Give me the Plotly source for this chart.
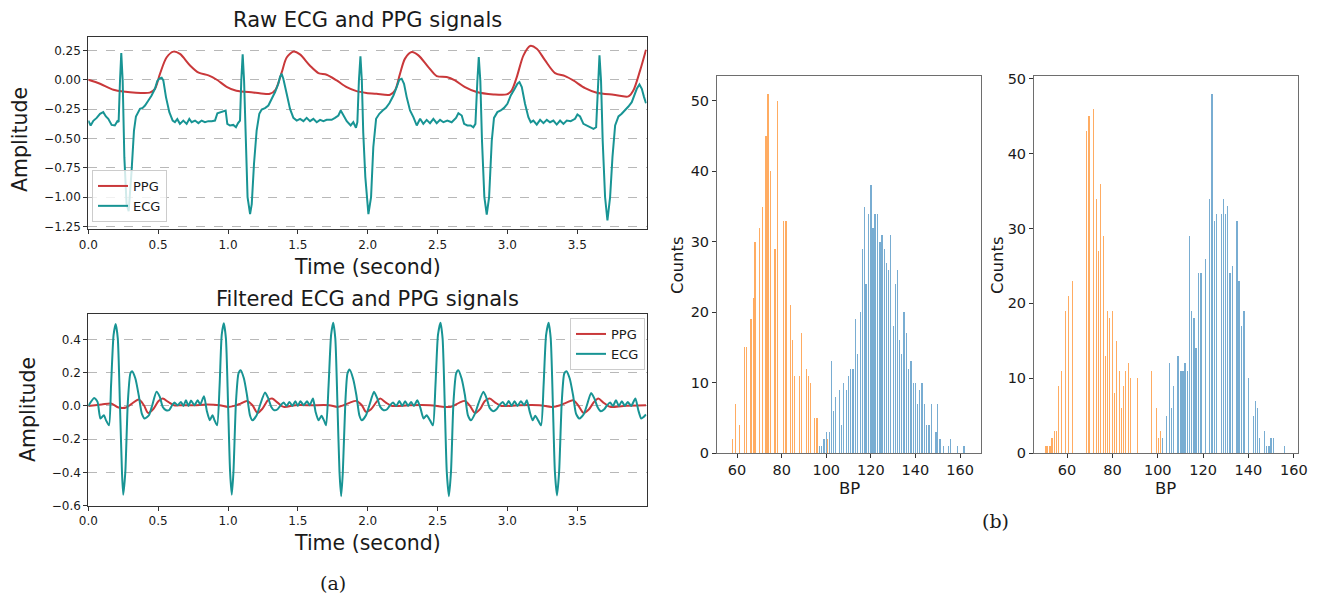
import plotly.graph_objects as go

# ---------------- data: raw signals (panel a, top) ----------------
raw_ppg_t = [0.0, 0.084, 0.18, 0.25, 0.44, 0.477, 0.513, 0.56, 0.61, 0.656, 0.73, 0.79, 0.86, 0.92, 0.99,
             1.06, 1.18, 1.30, 1.34, 1.385, 1.42, 1.47, 1.515, 1.587, 1.647, 1.706, 1.778, 1.85, 1.92, 1.99,
             2.064, 2.16, 2.196, 2.231, 2.267, 2.315, 2.363, 2.434, 2.494, 2.565, 2.625, 2.697, 2.78, 2.90,
             2.995, 3.031, 3.067, 3.115, 3.162, 3.21, 3.27, 3.341, 3.413, 3.472, 3.556, 3.64, 3.76, 3.866,
             3.902, 3.95, 3.992]
raw_ppg_v = [0.0, -0.034, -0.085, -0.10, -0.11, -0.077, 0.05, 0.19, 0.24, 0.22, 0.12, 0.06, 0.037, 0.0, -0.06,
             -0.094, -0.108, -0.12, -0.085, 0.065, 0.19, 0.24, 0.216, 0.12, 0.057, 0.043, -0.006, -0.063, -0.097, -0.112,
             -0.12, -0.128, -0.09, 0.05, 0.18, 0.236, 0.208, 0.108, 0.031, 0.023, -0.006, -0.063, -0.105, -0.125,
             -0.125, -0.09, 0.023, 0.208, 0.288, 0.265, 0.165, 0.057, 0.031, -0.006, -0.071, -0.11, -0.128, -0.142,
             -0.09, 0.08, 0.256]

raw_ecg_t = [0.0, 0.017, 0.036, 0.06, 0.084, 0.107, 0.126, 0.143, 0.167, 0.19, 0.208, 0.217, 0.227, 0.236, 0.246,
             0.258, 0.274, 0.289, 0.31, 0.327, 0.341, 0.358, 0.37, 0.389, 0.406, 0.43, 0.453, 0.477, 0.494, 0.508,
             0.525, 0.537, 0.556, 0.58, 0.604, 0.62, 0.637, 0.656, 0.68, 0.704, 0.723, 0.74, 0.764, 0.788, 0.811,
             0.835, 0.859, 0.883, 0.907, 0.924, 0.943, 0.967, 0.983, 0.995, 1.014, 1.038, 1.057, 1.072, 1.086,
             1.095, 1.105, 1.115, 1.126, 1.14, 1.158, 1.17, 1.186, 1.205, 1.224, 1.241, 1.265, 1.289, 1.313, 1.337,
             1.36, 1.372, 1.384, 1.396, 1.42, 1.444, 1.468, 1.492, 1.516, 1.54, 1.563, 1.587, 1.611, 1.635, 1.659,
             1.683, 1.706, 1.742, 1.766, 1.79, 1.807, 1.826, 1.85, 1.878, 1.897, 1.916, 1.926, 1.937, 1.948, 1.958,
             1.968, 1.983, 2.005, 2.024, 2.04, 2.06, 2.083, 2.107, 2.131, 2.155, 2.184, 2.207, 2.226, 2.243, 2.26,
             2.279, 2.303, 2.327, 2.351, 2.375, 2.398, 2.422, 2.446, 2.47, 2.494, 2.518, 2.542, 2.57, 2.601, 2.632,
             2.649, 2.673, 2.69, 2.713, 2.737, 2.756, 2.771, 2.785, 2.795, 2.806, 2.818, 2.835, 2.852, 2.869, 2.888,
             2.904, 2.928, 2.952, 2.976, 3.0, 3.024, 3.048, 3.072, 3.086, 3.103, 3.126, 3.15, 3.167, 3.186, 3.21,
             3.234, 3.258, 3.282, 3.305, 3.329, 3.353, 3.377, 3.401, 3.425, 3.453, 3.484, 3.501, 3.52, 3.544, 3.568,
             3.592, 3.616, 3.635, 3.649, 3.659, 3.67, 3.682, 3.699, 3.716, 3.735, 3.752, 3.771, 3.795, 3.818, 3.842,
             3.866, 3.89, 3.907, 3.926, 3.945, 3.962, 3.978, 3.992]
raw_ecg_v = [-0.348, -0.39, -0.35, -0.325, -0.29, -0.276, -0.313, -0.333, -0.385, -0.39, -0.353, -0.36, -0.006, 0.228, -0.006,
             -0.66, -1.06, -1.12, -0.775, -0.433, -0.313, -0.276, -0.248, -0.24, -0.22, -0.177, -0.134, -0.077, -0.011, 0.009,
             0.017, -0.006, -0.148, -0.276, -0.348, -0.362, -0.336, -0.376, -0.348, -0.376, -0.333, -0.362, -0.348, -0.37, -0.348,
             -0.362, -0.353, -0.353, -0.348, -0.285, -0.276, -0.268, -0.262, -0.376, -0.39, -0.385, -0.405, -0.37, -0.348,
             -0.006, 0.217, -0.006, -0.52, -1.0, -1.145, -1.06, -0.718, -0.433, -0.29, -0.254, -0.242, -0.22, -0.162, -0.105,
             -0.034, 0.023, 0.051, 0.009, -0.12, -0.248, -0.325, -0.348, -0.333, -0.353, -0.325, -0.353, -0.333, -0.362, -0.342,
             -0.353, -0.342, -0.342, -0.325, -0.305, -0.262, -0.305, -0.353, -0.39, -0.362, -0.41, -0.362, -0.006, 0.2, -0.006,
             -0.45, -0.83, -1.145, -1.0, -0.575, -0.333, -0.29, -0.262, -0.24, -0.2, -0.134, -0.063, 0.0, 0.009, -0.034,
             -0.148, -0.262, -0.319, -0.39, -0.333, -0.376, -0.342, -0.37, -0.333, -0.37, -0.342, -0.362, -0.348, -0.362, -0.325,
             -0.285, -0.305, -0.376, -0.39, -0.39, -0.405, -0.376, -0.006, 0.194, -0.006, -0.52, -1.0, -1.15, -1.0, -0.52,
             -0.325, -0.276, -0.262, -0.24, -0.205, -0.134, -0.085, -0.034, -0.02, -0.063, -0.205, -0.319, -0.362, -0.348, -0.382,
             -0.342, -0.37, -0.342, -0.362, -0.348, -0.382, -0.348, -0.376, -0.348, -0.353, -0.333, -0.296, -0.313, -0.376, -0.39,
             -0.405, -0.419, -0.405, -0.006, 0.208, -0.006, -0.52, -1.0, -1.2, -1.0, -0.66, -0.39, -0.313, -0.29, -0.262,
             -0.228, -0.191, -0.134, -0.077, -0.04, -0.077, -0.148, -0.2]

# ---------------- data: filtered signals (panel a, bottom) ----------------
flt_ecg_t = [0.0, 0.042, 0.066, 0.087, 0.111, 0.127, 0.148, 0.163, 0.181, 0.196, 0.211, 0.226, 0.241, 0.25, 0.265,
             0.283, 0.301, 0.313, 0.337, 0.361, 0.383, 0.404, 0.434, 0.458, 0.488, 0.512, 0.533, 0.557, 0.578, 0.6,
             0.617, 0.639, 0.663, 0.681, 0.699, 0.717, 0.735, 0.759, 0.783, 0.801, 0.828, 0.849, 0.87, 0.889, 0.904,
             0.922, 0.94, 0.955, 0.97, 0.985, 1.0, 1.015, 1.027, 1.039, 1.057, 1.075, 1.09, 1.114, 1.136, 1.157,
             1.175, 1.205, 1.229, 1.265, 1.289, 1.31, 1.331, 1.355, 1.377, 1.398, 1.419, 1.44, 1.461, 1.482, 1.5,
             1.518, 1.542, 1.566, 1.584, 1.608, 1.627, 1.648, 1.669, 1.687, 1.702, 1.72, 1.738, 1.753, 1.768, 1.783,
             1.798, 1.81, 1.822, 1.84, 1.855, 1.87, 1.895, 1.919, 1.94, 1.958, 1.988, 2.012, 2.045, 2.069, 2.09,
             2.114, 2.139, 2.16, 2.181, 2.205, 2.226, 2.247, 2.268, 2.289, 2.31, 2.331, 2.355, 2.377, 2.4, 2.422,
             2.446, 2.467, 2.485, 2.503, 2.521, 2.536, 2.551, 2.566, 2.581, 2.596, 2.614, 2.633, 2.648, 2.672, 2.696,
             2.717, 2.738, 2.768, 2.792, 2.828, 2.852, 2.873, 2.898, 2.922, 2.946, 2.967, 2.988, 3.009, 3.03, 3.051,
             3.072, 3.096, 3.12, 3.139, 3.16, 3.181, 3.199, 3.22, 3.241, 3.259, 3.277, 3.295, 3.31, 3.325, 3.34,
             3.355, 3.37, 3.389, 3.407, 3.422, 3.446, 3.47, 3.491, 3.515, 3.545, 3.569, 3.599, 3.623, 3.645, 3.669,
             3.693, 3.714, 3.735, 3.756, 3.777, 3.798, 3.819, 3.84, 3.861, 3.886, 3.916, 3.937, 3.958, 3.976, 3.992]
flt_ecg_v = [0.0, 0.048, 0.024, -0.076, -0.056, -0.087, -0.117, 0.125, 0.427, 0.493, 0.406, 0.024, -0.398, -0.535, -0.398,
             0.024, 0.195, 0.209, 0.165, 0.064, -0.046, -0.076, -0.056, 0.004, 0.085, 0.054, -0.006, -0.026, -0.026, 0.004,
             0.02, 0.004, 0.024, 0.0, 0.034, 0.0, 0.032, 0.004, 0.034, 0.008, 0.058, -0.032, -0.087, -0.056, -0.087,
             -0.117, 0.125, 0.427, 0.497, 0.406, 0.024, -0.398, -0.535, -0.398, 0.024, 0.195, 0.215, 0.165, 0.064, -0.056,
             -0.087, -0.056, 0.004, 0.08, 0.044, -0.006, -0.026, -0.02, 0.004, 0.02, 0.0, 0.024, 0.0, 0.028, 0.0,
             0.028, 0.004, 0.028, 0.004, 0.044, -0.036, -0.087, -0.06, -0.087, -0.117, 0.125, 0.427, 0.501, 0.406, 0.024,
             -0.398, -0.543, -0.398, 0.024, 0.195, 0.219, 0.165, 0.064, -0.056, -0.087, -0.056, 0.004, 0.085, 0.044, -0.006,
             -0.026, -0.02, 0.004, 0.02, 0.0, 0.03, 0.0, 0.028, 0.0, 0.024, 0.0, 0.034, -0.012, -0.076, -0.056,
             -0.087, -0.117, 0.125, 0.427, 0.501, 0.406, 0.024, -0.398, -0.543, -0.398, 0.024, 0.195, 0.215, 0.165, 0.064,
             -0.056, -0.087, -0.046, 0.014, 0.085, 0.044, -0.012, -0.032, -0.02, 0.008, 0.024, 0.0, 0.03, 0.0, 0.028,
             0.0, 0.028, 0.004, 0.034, -0.036, -0.087, -0.06, -0.087, -0.117, 0.125, 0.427, 0.501, 0.406, 0.024, -0.398,
             -0.539, -0.398, 0.024, 0.195, 0.209, 0.165, 0.064, -0.046, -0.076, -0.052, 0.004, 0.078, 0.044, -0.006, -0.032,
             -0.02, 0.004, 0.02, 0.0, 0.034, 0.0, 0.028, 0.0, 0.024, 0.0, 0.044, -0.026, -0.076, -0.066, -0.052]

flt_ppg_t = [0.0, 0.096, 0.163, 0.217, 0.271, 0.313, 0.361, 0.398, 0.428, 0.464, 0.503, 0.533, 0.572, 0.614, 0.669,
             0.759, 0.849, 0.94, 1.0, 1.045, 1.09, 1.136, 1.175, 1.211, 1.247, 1.286, 1.316, 1.355, 1.398, 1.482,
             1.602, 1.723, 1.783, 1.828, 1.873, 1.919, 1.958, 1.988, 2.024, 2.063, 2.09, 2.13, 2.175, 2.295, 2.446,
             2.551, 2.596, 2.657, 2.696, 2.732, 2.768, 2.807, 2.837, 2.873, 2.913, 2.958, 3.078, 3.229, 3.319, 3.378,
             3.422, 3.47, 3.506, 3.545, 3.584, 3.62, 3.651, 3.687, 3.735, 3.831, 3.992]
flt_ppg_v = [0.0, 0.008, 0.014, -0.01, -0.01, 0.014, 0.038, 0.004, -0.042, -0.02, 0.03, 0.044, 0.024, 0.004, 0.004,
             0.004, 0.008, 0.004, -0.006, 0.0, 0.014, 0.03, 0.004, -0.042, -0.016, 0.034, 0.044, 0.02, -0.006, 0.004,
             0.004, 0.004, -0.006, 0.004, 0.02, 0.03, 0.004, -0.036, -0.02, 0.024, 0.044, 0.02, 0.0, 0.004, 0.004,
             -0.006, -0.006, 0.02, 0.03, 0.0, -0.042, -0.016, 0.028, 0.044, 0.02, 0.0, 0.004, 0.004, -0.006, 0.004,
             0.02, 0.034, 0.004, -0.042, -0.02, 0.024, 0.044, 0.02, -0.006, 0.0, 0.004]

# ---------------- data: BP histograms (panel b) ----------------
h1_sbp_bp = [97, 98, 99, 100, 101.3, 102.2, 103.2, 104.1, 105.9, 106.9, 107.8, 109, 110.1, 111, 112, 113.2, 114.1,
             115.2, 116.1, 117, 117.8, 118.9, 120, 121, 121.9, 122.9, 124.1, 125, 126.1, 127, 128, 128.9, 130.1,
             131, 132.1, 132.8, 133.9, 134.9, 135.9, 136.8, 138, 139.1, 140, 141, 141.8, 143, 144, 145.1, 146.1,
             147.1, 149.2, 150, 151, 152.7, 154.9, 155.6, 158.8, 161.8]
h1_sbp_cnt = [1, 1, 2, 3, 3, 13, 6, 8, 9, 4, 10, 9, 11, 12, 12, 19, 14,
              20, 29, 35, 24, 34, 38, 32, 34, 34, 30, 31, 29, 27, 26, 31, 18,
              24, 26, 16, 14, 20, 17, 12, 13, 10, 10, 7, 9, 10, 7, 4, 4,
              7, 3, 7, 2, 1, 1, 2, 1, 1]
h1_dbp_bp = [58.1, 59.3, 61.2, 63.3, 64.3, 66.2, 67.3, 68.1, 70.1, 71.3, 73.0, 73.9, 75.1, 77.0, 78.1, 80.9, 81.9,
             83.9, 84.9, 85.9, 87.9, 88.9, 91.0, 91.9, 92.9, 94.8, 95.9, 100.6]
h1_dbp_cnt = [2, 7, 4, 15, 15, 19, 22, 30, 32, 35, 45, 51, 40, 29, 50, 33, 33,
              21, 16, 11, 11, 17, 12, 11, 10, 5, 5, 2]

h2_sbp_bp = [102, 103.9, 105.1, 106.1, 107, 108.9, 110.2, 111.1, 112, 113, 114.1, 115, 116, 116.9, 118.1, 119.1,
             121, 122.9, 123.9, 125.1, 125.9, 128.1, 128.9, 130, 130.9, 131.9, 133.1, 134.9, 135.8, 136.9, 138,
             139.9, 142.2, 143, 144, 144.9, 147.2, 148.1, 149.1, 150, 151, 155.8]
h2_sbp_cnt = [2, 5, 12, 6, 9, 13, 11, 11, 12, 11, 29, 19, 18, 14, 24, 24,
              26, 34, 48, 31, 32, 32, 34, 32, 33, 24, 25, 31, 23, 17, 19,
              10, 5, 7, 6, 2, 3, 1, 1, 2, 2, 1]
h2_dbp_bp = [50.5, 51.2, 52.4, 53.3, 54.4, 55.4, 56.3, 57.5, 59.4, 60.6, 62.5, 68.6, 69.6, 71.7, 72.9, 73.8, 74.8,
             76.0, 76.8, 77.9, 78.7, 79.9, 80.9, 81.8, 83.0, 83.9, 84.9, 85.9, 87.0, 88.0, 91.1, 97.3, 99.3, 100.3, 101.3]
h2_dbp_cnt = [1, 1, 1, 2, 3, 3, 9, 11, 19, 21, 23, 43, 45, 46, 34, 27, 36,
              29, 13, 19, 18, 19, 8, 15, 11, 6, 9, 11, 12, 10, 10, 11, 6, 2, 3]

sig_x_ticks = [0, 0.5, 1.0, 1.5, 2.0, 2.5, 3.0, 3.5]
raw_y_ticks = [-1.25, -1.0, -0.75, -0.5, -0.25, 0.0, 0.25]
flt_y_ticks = [-0.6, -0.4, -0.2, 0.0, 0.2, 0.4]
hist_x_ticks = [60, 80, 100, 120, 140, 160]
hist_y_ticks = [0, 10, 20, 30, 40, 50]

# ---------------- styling ----------------
W, H = 1320, 599
PPG_C = "#c9383a"
ECG_C = "#189494"
BLUE = "rgba(31,119,180,0.6)"
ORANGE = "rgba(255,127,14,0.65)"
FONT = "DejaVu Sans"
TXT = "#1a1a1a"

def px_x(p):
    return p / W

def px_y(p):
    return 1 - p / H

fig = go.Figure()

# top: raw
fig.add_trace(go.Scatter(x=raw_ppg_t, y=raw_ppg_v, mode="lines", name="PPG", line=dict(color=PPG_C, width=2, shape="spline", smoothing=0.8),
                         xaxis="x", yaxis="y", legend="legend"))
fig.add_trace(go.Scatter(x=raw_ecg_t, y=raw_ecg_v, mode="lines", name="ECG", line=dict(color=ECG_C, width=2),
                         xaxis="x", yaxis="y", legend="legend"))
# bottom: filtered
fig.add_trace(go.Scatter(x=flt_ppg_t, y=flt_ppg_v, mode="lines", name="PPG", line=dict(color=PPG_C, width=2, shape="spline", smoothing=0.8),
                         xaxis="x2", yaxis="y2", legend="legend2"))
fig.add_trace(go.Scatter(x=flt_ecg_t, y=flt_ecg_v, mode="lines", name="ECG", line=dict(color=ECG_C, width=2, shape="spline", smoothing=0.6),
                         xaxis="x2", yaxis="y2", legend="legend2"))

# histograms
for bp, cnt, col, wdt, xa, ya in [
    (h1_sbp_bp, h1_sbp_cnt, BLUE, 0.58, "x3", "y3"),
    (h1_dbp_bp, h1_dbp_cnt, ORANGE, 0.58, "x3", "y3"),
    (h2_sbp_bp, h2_sbp_cnt, BLUE, 0.58, "x4", "y4"),
    (h2_dbp_bp, h2_dbp_cnt, ORANGE, 0.58, "x4", "y4"),
]:
    fig.add_trace(go.Bar(x=bp, y=cnt, width=wdt, marker=dict(color=col, line=dict(width=0)),
                         showlegend=False, xaxis=xa, yaxis=ya))

sig_x_dom = [px_x(88.3), px_x(646.7)]

def sig_xaxis(domain_anchor):
    return dict(domain=sig_x_dom, anchor=domain_anchor, range=[0, 3.997], tickmode="array", tickvals=sig_x_ticks,
                ticktext=[f"{v:.1f}" for v in sig_x_ticks], showgrid=False, zeroline=False, automargin=False,
                showline=True, mirror=True, linecolor="#333333", linewidth=1,
                ticks="outside", ticklen=4, tickcolor="#333333",
                tickfont=dict(family=FONT, size=12, color=TXT))

def sig_yaxis(dom, rng, tv, fmt, anchor):
    return dict(domain=dom, anchor=anchor, range=rng, tickmode="array", tickvals=tv,
                ticktext=[(f"{v:{fmt}}").replace("-", "\u2212") for v in tv], automargin=False,
                showgrid=True, gridcolor="#b8b8b8", griddash="dash", gridwidth=1, zeroline=False,
                showline=True, mirror=True, linecolor="#333333", linewidth=1,
                ticks="outside", ticklen=4, tickcolor="#333333",
                tickfont=dict(family=FONT, size=12, color=TXT))

def hist_xaxis(dom, rng, anchor):
    return dict(domain=dom, anchor=anchor, range=rng, tickmode="array", tickvals=hist_x_ticks, automargin=False,
                showgrid=False, zeroline=False, showline=True, mirror=True, linecolor="#6e6e6e", linewidth=1,
                ticks="outside", ticklen=4, tickcolor="#333333",
                tickfont=dict(family=FONT, size=14.5, color=TXT))

def hist_yaxis(rng, anchor):
    return dict(domain=[px_y(453), px_y(76)], anchor=anchor, range=rng, tickmode="array", tickvals=hist_y_ticks,
                automargin=False,
                showgrid=False, zeroline=False, showline=True, mirror=True, linecolor="#6e6e6e", linewidth=1,
                ticks="outside", ticklen=4, tickcolor="#333333",
                tickfont=dict(family=FONT, size=14.5, color=TXT))

legend_common = dict(bgcolor="rgba(255,255,255,0.8)", bordercolor="#cccccc", borderwidth=1,
                     font=dict(family=FONT, size=13, color=TXT), itemwidth=30, tracegroupgap=0)

fig.update_layout(
    width=W, height=H, margin=dict(l=0, r=0, t=0, b=0, pad=0, autoexpand=False),
    paper_bgcolor="white", plot_bgcolor="white", barmode="overlay", bargap=0,
    xaxis=sig_xaxis("y"),
    yaxis=sig_yaxis([px_y(229.3), px_y(37.3)], [-1.275, 0.362], raw_y_ticks, ".2f", "x"),
    xaxis2=sig_xaxis("y2"),
    yaxis2=sig_yaxis([px_y(505.7), px_y(314)], [-0.6005, 0.553], flt_y_ticks, ".1f", "x2"),
    xaxis3=hist_xaxis([px_x(717), px_x(981)], [51.0, 169.4], "y3"),
    yaxis3=hist_yaxis([0, 53.55], "x3"),
    xaxis4=hist_xaxis([px_x(1034), px_x(1298.3)], [45.4, 162.0], "y4"),
    yaxis4=hist_yaxis([0, 50.4], "x4"),
    legend=dict(x=px_x(92), y=px_y(222), xanchor="left", yanchor="bottom", **legend_common),
    legend2=dict(x=px_x(645), y=px_y(318), xanchor="right", yanchor="top", **legend_common),
    showlegend=True,
)

def ann(text, x, y, size, angle=0, family=FONT):
    fig.add_annotation(text=text, x=px_x(x), y=px_y(y), xref="paper", yref="paper", showarrow=False,
                       xanchor="center", yanchor="middle", textangle=angle,
                       font=dict(family=family, size=size, color=TXT))

ann("Raw ECG and PPG signals", 367, 20, 21)
ann("Filtered ECG and PPG signals", 367, 299, 21)
ann("Time (second)", 367, 267, 20.5)
ann("Time (second)", 367, 543, 20.5)
ann("Amplitude", 20, 140, 20.5, angle=-90)
ann("Amplitude", 28, 410, 20.5, angle=-90)
ann("Counts", 677, 265, 16.5, angle=-90)
ann("Counts", 997, 265, 16.5, angle=-90)
ann("BP", 849, 488, 16.5)
ann("BP", 1165, 488, 16.5)
ann("(a)", 333, 583, 19, family="DejaVu Serif")
ann("(b)", 995, 521, 19, family="DejaVu Serif")

fig.write_html("out.html")
